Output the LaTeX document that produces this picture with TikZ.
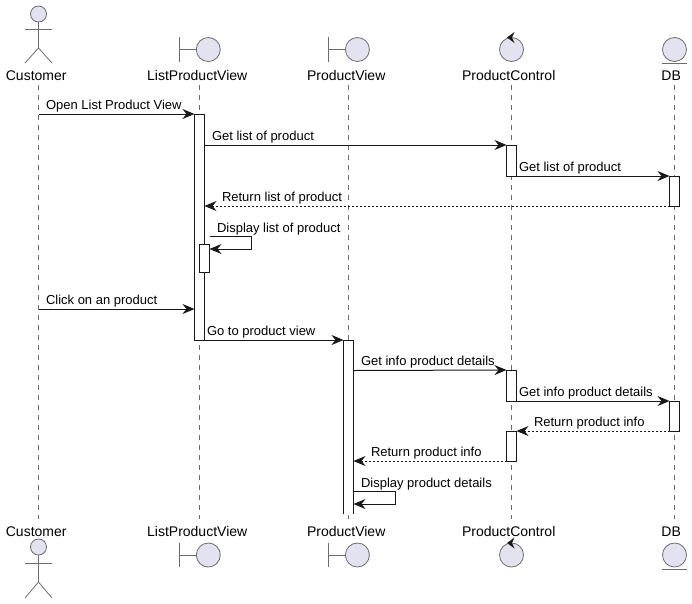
\documentclass[tikz,border=0pt]{standalone}
\usepackage{fontspec}
\setmainfont{Liberation Sans}
\usetikzlibrary{arrows.meta,positioning,shapes}
\definecolor{headfill}{HTML}{E2E2F0}
\definecolor{linedark}{HTML}{181818}
\tikzset{
	every node/.style={
		font=\fontsize{13}{15}\selectfont,
		inner sep=0pt,
		outer sep=0pt,
		text=black
	},
	participant/.style={
		font=\fontsize{14}{16}\selectfont,
		anchor=base
	},
	msglabel/.style={
		anchor=base west
	},
	lifeline/.style={
		draw=gray!85!black,
		line width=0.7pt,
		dash pattern=on 5pt off 5pt
	},
	bar/.style={
		shape=rectangle,
		draw=linedark,
		fill=white,
		line width=1pt,
		minimum width=10pt
	},
	icon/.style={
		shape=circle,
		draw=gray!85!black,
		fill=headfill,
		line width=0.8pt,
		minimum size=24pt
	},
	head/.style={
		icon,
		minimum size=16pt
	},
	stroke/.style={
		draw=gray!85!black,
		line width=0.8pt
	},
	msg/.style={
		draw=linedark,
		line width=1pt,
		-{Stealth[length=12pt,width=10pt,inset=4pt]}
	},
	reply/.style={
		msg,
		line width=0.8pt,
		dash pattern=on 2pt off 2pt
	}
}

\begin{document}
\begin{tikzpicture}[x=1pt,y=-1pt]
  \useasboundingbox (0,0) rectangle (692,603);

  \coordinate (custA) at (38.5,85);
  \coordinate (custB) at (38.5,519);
  \coordinate (listA) at (199.5,85);
  \coordinate (listB) at (199.5,519);
  \coordinate (viewA) at (348.5,85);
  \coordinate (viewB) at (348.5,519);
  \coordinate (ctrlA) at (511.5,85);
  \coordinate (ctrlB) at (511.5,519);
  \coordinate (dbA)   at (674.5,85);
  \coordinate (dbB)   at (674.5,519);

  \draw[lifeline] (custA) -- (custB);
  \draw[lifeline] (listA) -- (listB);
  \draw[lifeline] (viewA) -- (viewB);
  \draw[lifeline] (ctrlA) -- (ctrlB);
  \draw[lifeline] (dbA) -- (dbB);

  \foreach \tag/\base/\headY/\armY/\hipY/\footY/\iconY/\tickA/\tickB/\dbY/\tipY in
      {Top/80/14/29/48/63/49.5/37/62/63/37.5, Bot/536/547/563/582/598/555/543/567/569/543}{
    \node[participant] (cust\tag) at (36.2,\base)  {Customer};
    \node[participant] (list\tag) at (197.2,\base) {ListProductView};
    \node[participant] (view\tag) at (346.2,\base) {ProductView};
    \node[participant] (ctrl\tag) at (508.7,\base) {ProductControl};
    \node[participant] (db\tag)   at (671.2,\base) {DB};

    \node[head] (custIcon\tag) at (38.5,\headY) {};
    \coordinate (hip\tag) at (38.5,\hipY);
    \draw[stroke] (custIcon\tag) -- (hip\tag);
    \draw[stroke] (25,\armY) -- (52,\armY);
    \draw[stroke] (25,\footY) -- (hip\tag) -- (52,\footY);

    \node[icon] (listIcon\tag) at (208.3,\iconY) {};
    \draw[stroke] (179.5,\tickA) -- (179.5,\tickB);
    \draw[stroke] (179.5,\iconY) -- (listIcon\tag);

    \node[icon] (viewIcon\tag) at (357.4,\iconY) {};
    \draw[stroke] (328.5,\tickA) -- (328.5,\tickB);
    \draw[stroke] (328.5,\iconY) -- (viewIcon\tag);

    \node[icon] (ctrlIcon\tag) at (511.5,\iconY) {};
    \fill[linedark] (514.5,\tipY-5.5) -- (507,\tipY) -- (514.5,\tipY+5.5) -- (512,\tipY) -- cycle;

    \node[icon] (dbIcon\tag) at (674.5,\iconY) {};
    \draw[stroke] (662.3,\dbY) -- (686.8,\dbY);
  }

  \node[bar,minimum height=226pt] (listBar)  at (199.5,227)   {};
  \node[bar,minimum height=28pt]  (listSelf) at (204.5,258)   {};
  \node[bar,minimum height=31pt]  (ctrlBarA) at (511.5,160.5) {};
  \node[bar,minimum height=30pt]  (dbBarA)   at (674.5,191)   {};
  \node[bar,minimum height=31pt]  (ctrlBarB) at (511.5,385.5) {};
  \node[bar,minimum height=30pt]  (dbBarB)   at (674.5,416)   {};
  \node[bar,minimum height=30pt]  (ctrlBarC) at (511.5,446)   {};
  \node[bar,draw=none,minimum height=174pt] (viewBar) at (348.5,427) {};
  \draw[bar] (viewBar.south west) -- (viewBar.north west) -- (viewBar.north east) -- (viewBar.south east);

  \coordinate (selfA) at (209.5,236.5);
  \coordinate (selfB) at (251.5,236.5);
  \coordinate (selfC) at (251.5,249);
  \coordinate (selfD) at (395,491);
  \coordinate (selfE) at (395,504);

  \draw[msg] (38.5,114) -- (listBar.north west);
  \draw[msg] (listBar.east |- 0,145) -- (ctrlBarA.north west);
  \draw[msg] (ctrlBarA.south east) -- (dbBarA.north west);
  \draw[reply] (dbBarA.south west) -- (listBar.east |- 0,206);
  \draw[msg] (selfA) -- (selfB) -- (selfC) -- (listSelf.east |- selfC);
  \draw[msg] (38.5,309) -- (listBar.west |- 0,309);
  \draw[msg] (listBar.south west) -- (viewBar.north west);
  \draw[msg] (viewBar.east |- 0,370.5) -- (ctrlBarB.north west);
  \draw[msg] (ctrlBarB.south east) -- (dbBarB.north west);
  \draw[reply] (dbBarB.south west) -- (ctrlBarC.north east);
  \draw[reply] (ctrlBarC.south west) -- (viewBar.east |- ctrlBarC.south);
  \draw[msg] (viewBar.east |- selfD) -- (selfD) -- (selfE) -- (viewBar.east |- selfE);

  \node[msglabel] (openLbl)    at (46,109.7)   {Open List Product View};
  \node[msglabel] (getLbl)     at (212,140.5)  {Get list of product};
  \node[msglabel] (getLblB)    at (519,171.5)  {Get list of product};
  \node[msglabel] (returnLbl)  at (222,201.5)  {Return list of product};
  \node[msglabel] (displayLbl) at (217,232)    {Display list of product};
  \node[msglabel] (clickLbl)   at (46,304.7)   {Click on an product};
  \node[msglabel] (goLbl)      at (207,335.5)  {Go to product view};
  \node[msglabel] (infoLbl)    at (361,365.7)  {Get info product details};
  \node[msglabel] (infoLblB)   at (519,396)    {Get info product details};
  \node[msglabel] (backLbl)    at (534,426.5)  {Return product info};
  \node[msglabel] (backLblB)   at (371,456.5)  {Return product info};
  \node[msglabel] (detailLbl)  at (361,487)    {Display product details};
\end{tikzpicture}
\end{document}
